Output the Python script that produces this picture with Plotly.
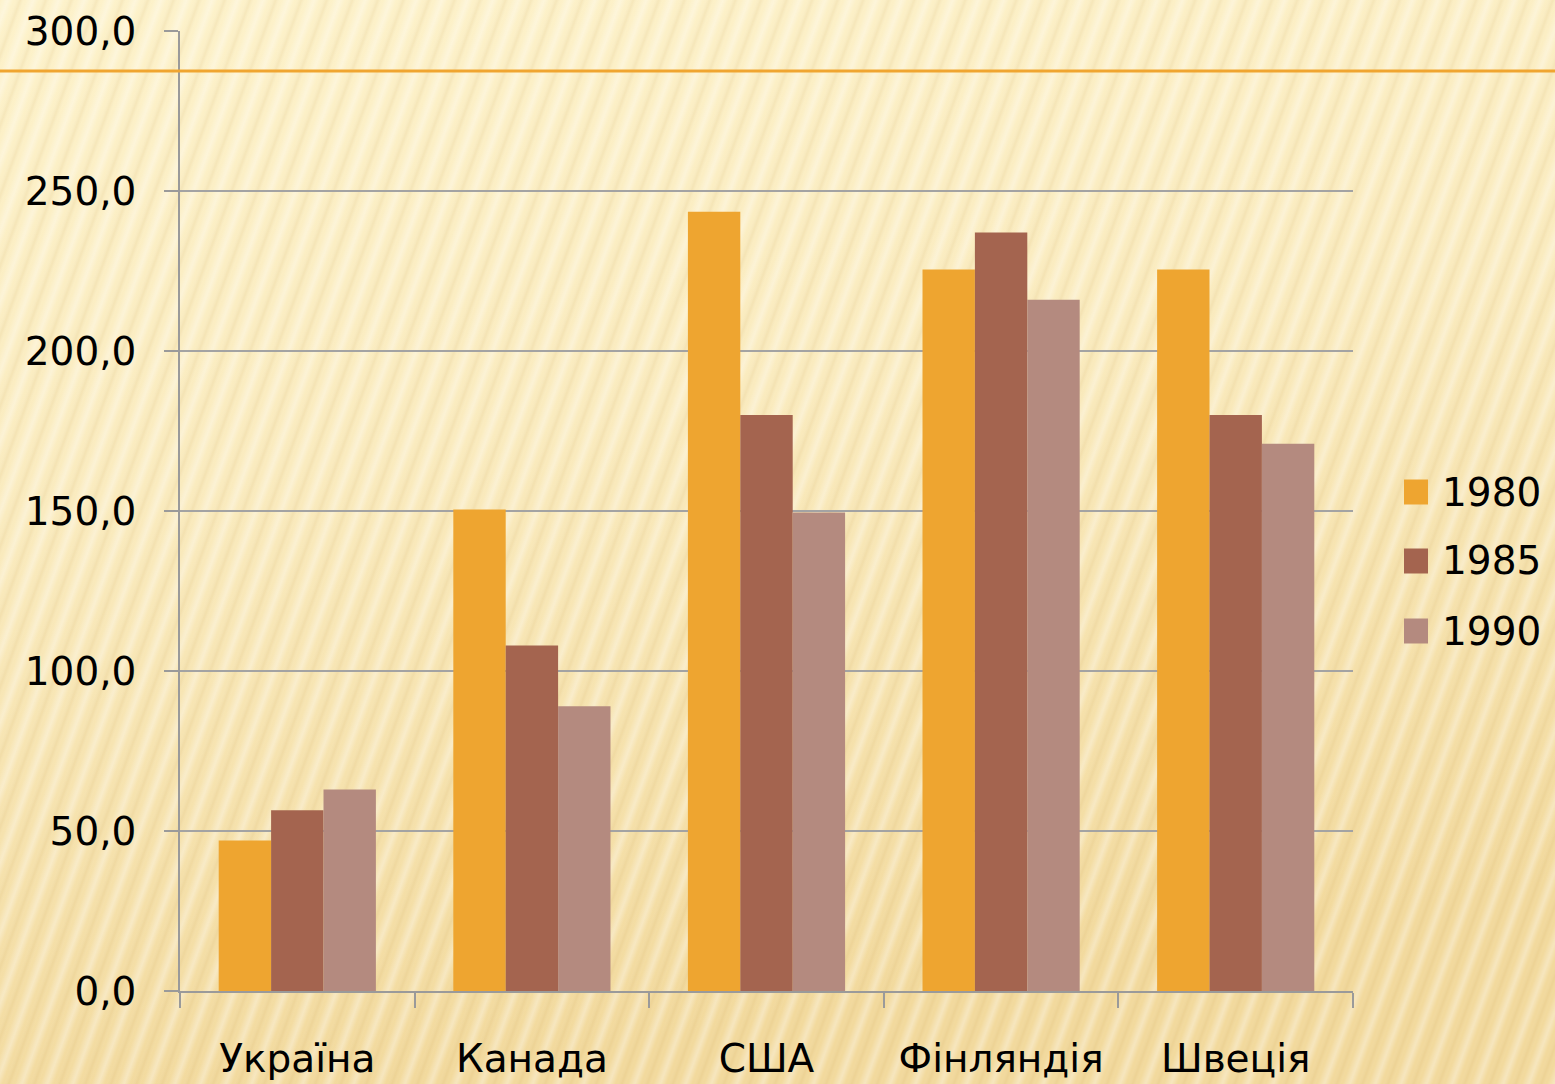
import plotly.graph_objects as go
import urllib.parse

categories = ["Україна", "Канада", "США", "Фінляндія", "Швеція"]
series_names = ["1980", "1985", "1990"]
values_1980 = [47.0, 150.5, 243.5, 225.5, 225.5]
values_1985 = [56.5, 108.0, 180.0, 237.0, 180.0]
values_1990 = [63.0, 89.0, 149.5, 216.0, 171.0]
colors = ["#EEA530", "#A4644F", "#B48A7F"]
y_ticks = [0, 50, 100, 150, 200, 250, 300]
y_tick_labels = ["0,0", "50,0", "100,0", "150,0", "200,0", "250,0", "300,0"]

W, H = 1555, 1084
L, R, T, B = 180, 202, 31, 93
PW, PH = W - L - R, H - T - B

FONT = "DejaVu Sans"

fig = go.Figure()
for name, vals, col in zip(series_names, [values_1980, values_1985, values_1990], colors):
    fig.add_trace(go.Bar(x=categories, y=vals, name=name, marker=dict(color=col, line=dict(width=0)),
                         showlegend=False))

# background: gradient + diagonal stripes
svg = f"""<svg xmlns='http://www.w3.org/2000/svg' width='{W}' height='{H}'>
<defs>
<linearGradient id='g' x1='0' y1='0' x2='0.25' y2='1'>
<stop offset='0' stop-color='#FDF2CA'/>
<stop offset='0.45' stop-color='#FAEBBE'/>
<stop offset='1' stop-color='#F2D99C'/>
</linearGradient>
<linearGradient id='s' x1='0' y1='0' x2='1' y2='0'>
<stop offset='0' stop-color='#FFFFFF' stop-opacity='0'/>
<stop offset='0.3' stop-color='#FFFFFF' stop-opacity='0.35'/>
<stop offset='0.55' stop-color='#FFFFFF' stop-opacity='0'/>
<stop offset='0.8' stop-color='#C9A660' stop-opacity='0.14'/>
<stop offset='1' stop-color='#FFFFFF' stop-opacity='0'/>
</linearGradient>
<pattern id='p' width='24' height='24' patternUnits='userSpaceOnUse' patternTransform='rotate(20)'>
<rect x='0' y='0' width='24' height='24' fill='url(#s)'/>
</pattern>
</defs>
<rect width='100%' height='100%' fill='url(#g)'/>
<rect width='100%' height='100%' fill='url(#p)'/>
</svg>"""
src = "data:image/svg+xml;charset=utf-8," + urllib.parse.quote(svg)
fig.add_layout_image(dict(source=src, xref="paper", yref="paper",
                          x=-L / PW, y=1 + T / PH, sizex=W / PW, sizey=H / PH,
                          xanchor="left", yanchor="top", sizing="stretch", layer="below"))

# orange decorative line
fig.add_shape(type="line", xref="paper", yref="paper", x0=-L / PW, x1=(W - L) / PW,
              y0=(H - B - 71) / PH, y1=(H - B - 71) / PH,
              line=dict(color="#F0A530", width=3), layer="above")

# custom legend
legend_centers = [492, 561, 631]
for name, col, cy in zip(series_names, colors, legend_centers):
    fig.add_shape(type="rect", xref="paper", yref="paper",
                  x0=(1404 - L) / PW, x1=(1428 - L) / PW,
                  y0=(H - B - (cy + 12.5)) / PH, y1=(H - B - (cy - 12.5)) / PH,
                  fillcolor=col, line=dict(width=0), layer="above")
    fig.add_annotation(xref="paper", yref="paper", x=(1440 - L) / PW, y=(H - B - cy) / PH,
                       text=name, showarrow=False, xanchor="left", yanchor="middle",
                       font=dict(family=FONT, size=39, color="#000000"))

fig.update_layout(
    width=W, height=H,
    margin=dict(l=L, r=R, t=T, b=B, autoexpand=False),
    paper_bgcolor="#F8E6B2",
    plot_bgcolor="rgba(0,0,0,0)",
    barmode="group", bargap=0.33, bargroupgap=0,
    font=dict(family=FONT, size=39, color="#000000"),
    xaxis=dict(showline=True, linecolor="#9A9A9A", linewidth=1.5, ticks="outside", tickson="boundaries",
               ticklen=15, tickcolor="#9A9A9A", tickwidth=1.5, showgrid=False, ticklabelstandoff=32,
               automargin=False,
               tickfont=dict(family=FONT, size=39, color="#000000")),
    yaxis=dict(range=[0, 300], tickvals=y_ticks, ticktext=y_tick_labels, showline=True,
               linecolor="#9A9A9A", linewidth=1.5, ticks="outside", ticklen=14, tickcolor="#9A9A9A",
               tickwidth=1.5, showgrid=True, gridcolor="#A3A3A3", gridwidth=1.5, zeroline=False,
               ticklabelstandoff=20, automargin=False,
               tickfont=dict(family=FONT, size=39, color="#000000")),
)

fig.write_html("out.html", post_script="document.body.style.margin='0';",
               config={"displayModeBar": False})
